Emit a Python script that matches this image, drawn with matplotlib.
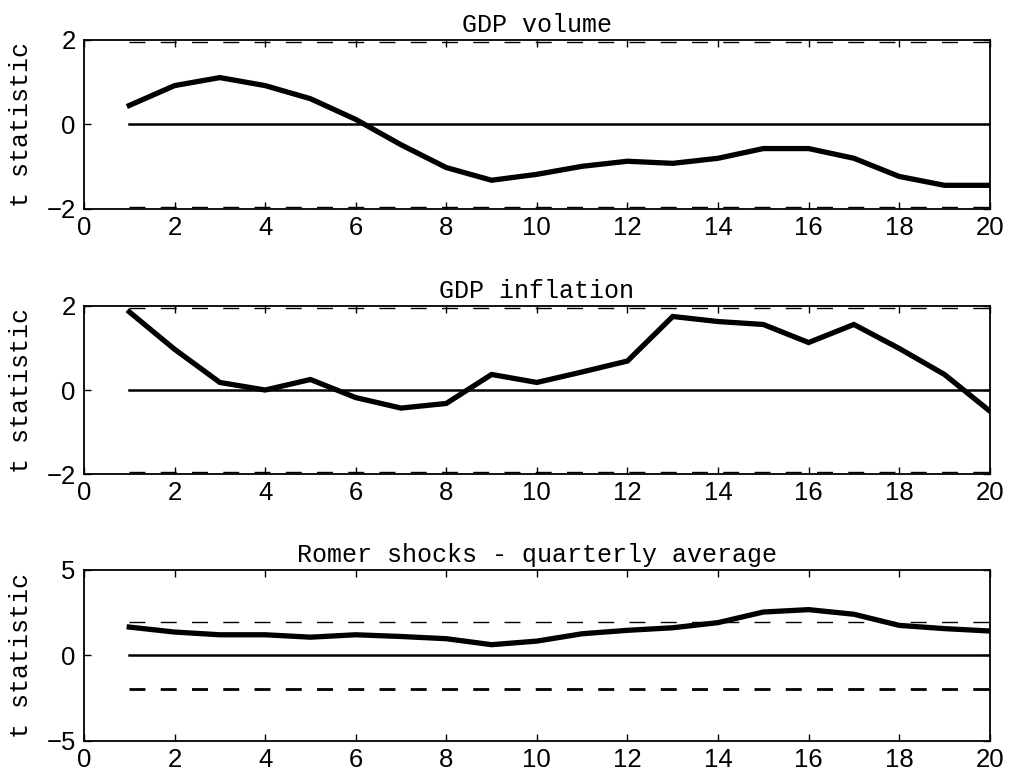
import numpy as np
import matplotlib
matplotlib.use("Agg")
import matplotlib.pyplot as plt

# horizons 1..20
horizon = np.arange(1, 21)

gdp_volume = [0.45, 0.92, 1.11, 0.92, 0.61, 0.12, -0.48, -1.02, -1.32, -1.18,
              -0.99, -0.87, -0.92, -0.80, -0.57, -0.57, -0.80, -1.23, -1.44, -1.44]
gdp_inflation = [1.86, 0.97, 0.18, 0.0, 0.25, -0.18, -0.43, -0.32, 0.37, 0.18,
                 0.43, 0.69, 1.75, 1.63, 1.56, 1.13, 1.56, 0.99, 0.37, -0.50]
romer_shocks = [1.66, 1.37, 1.21, 1.21, 1.07, 1.21, 1.11, 0.98, 0.63, 0.84,
                1.27, 1.47, 1.62, 1.92, 2.54, 2.68, 2.41, 1.76, 1.57, 1.43]

titles = ["GDP volume", "GDP inflation", "Romer shocks - quarterly average"]
series = [gdp_volume, gdp_inflation, romer_shocks]
ylims = [(-2, 2), (-2, 2), (-5, 5)]
yticks = [[-2, 0, 2], [-2, 0, 2], [-5, 0, 5]]
crit = 1.96

mono = "Liberation Mono"
sans = "Liberation Sans"

fig = plt.figure(figsize=(10.12, 7.78), dpi=100)
positions = [
    [0.083, 0.7314, 0.895, 0.2172],
    [0.083, 0.3907, 0.895, 0.2160],
    [0.083, 0.0476, 0.895, 0.2198],
]

for i, (pos, title, vals) in enumerate(zip(positions, titles, series)):
    ax = fig.add_axes(pos)
    # critical value bands
    lower_lw = 2.0 if i == 2 else 1.0
    ax.plot(horizon, np.full(len(horizon), crit), color="black", lw=1.0,
            dashes=(11.5, 11))
    ax.plot(horizon, np.full(len(horizon), -crit), color="black", lw=lower_lw,
            dashes=(11.5 / lower_lw, 11 / lower_lw))
    ax.plot(horizon, np.zeros(len(horizon)), color="black", lw=1.8)
    ax.plot(horizon, vals, color="black", lw=3.8, solid_joinstyle="miter")

    ax.set_xlim(0, 20)
    ax.set_ylim(*ylims[i])
    ax.set_xticks(np.arange(0, 21, 2))
    ax.set_yticks(yticks[i])
    ax.tick_params(direction="in", length=5, width=1.0, top=True, right=True,
                   labelsize=18.5)
    ax.tick_params(axis="x", pad=5)
    ax.tick_params(axis="y", pad=6)
    for lab in ax.get_xticklabels() + ax.get_yticklabels():
        lab.set_family(sans)
    for sp in ax.spines.values():
        sp.set_linewidth(1.3)

    ax.set_title(title, fontfamily=mono, fontsize=18, pad=6)
    ax.set_ylabel("t statistic", fontfamily=mono, fontsize=18)
    ax.yaxis.set_label_coords(-0.056, 0.5)

fig.savefig("out.png", dpi=100)
